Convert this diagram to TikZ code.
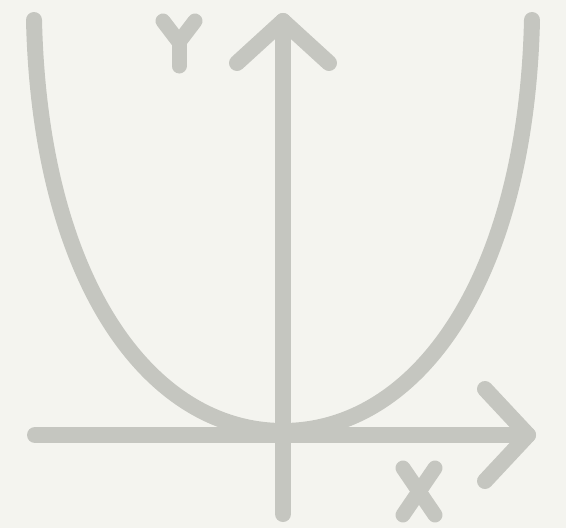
\documentclass[tikz,border=0pt]{standalone}
\definecolor{bgc}{HTML}{F4F4EF}
\definecolor{ink}{HTML}{C5C6C0}
\begin{document}
\begin{tikzpicture}[x=1pt,y=-1pt,
  stroke/.style={draw=ink,line width=16pt,line cap=round,line join=round},
  letter/.style={draw=ink,line width=15pt,line cap=round,line join=round}]
\fill[bgc] (0,0) rectangle (566,528);
\useasboundingbox (0,0) rectangle (566,528);
% parabola
\draw[stroke] (34,20) .. controls (40,282) and (150,431) .. (283,431)
  .. controls (416,431) and (526,282) .. (532,20);
% axes
\coordinate (ytip) at (283,21);
\coordinate (ybot) at (283,514);
\coordinate (xtip) at (528,435);
\coordinate (xleft) at (35,435);
\draw[stroke] (ybot) -- (ytip);
\draw[stroke] (237,63) -- (ytip) -- (329,63);
\draw[stroke] (xleft) -- (xtip);
\draw[stroke] (485,389) -- (xtip) -- (485,481);
% letter Y
\draw[letter] (163,21) -- (179,42) -- (195,21);
\draw[letter] (179,42) -- (179,66);
% letter X
\draw[letter] (403,468) -- (435,515);
\draw[letter] (435,468) -- (403,515);
\end{tikzpicture}
\end{document}
